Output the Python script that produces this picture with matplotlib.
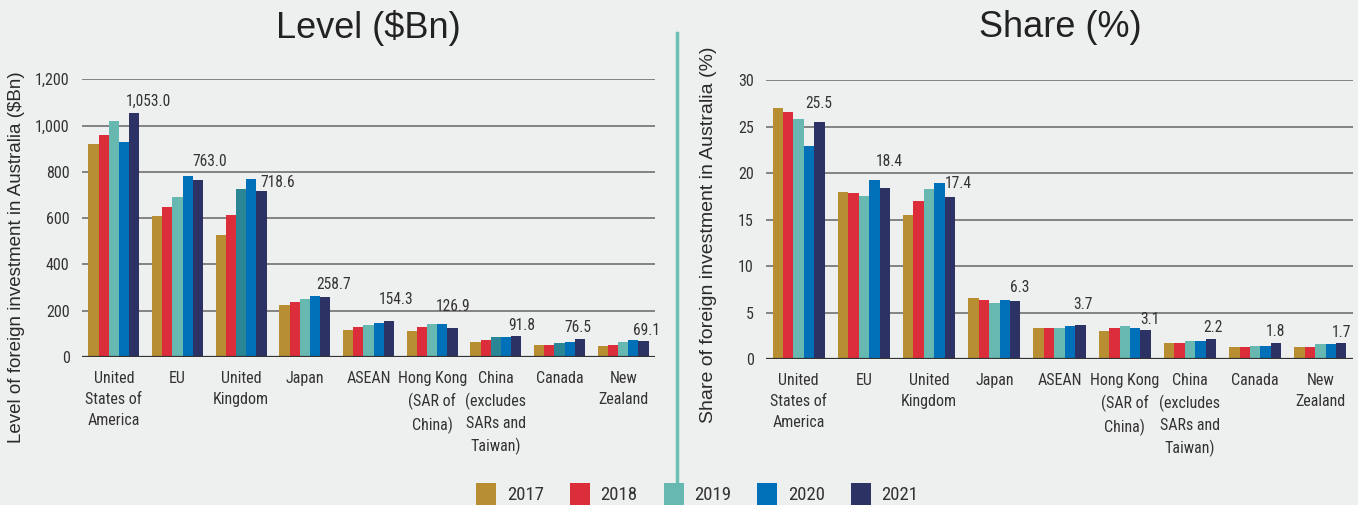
import matplotlib

matplotlib.use("Agg")
import matplotlib.pyplot as plt
import numpy as np
from matplotlib.patches import Patch
from matplotlib.ticker import FuncFormatter

# ---- data -------------------------------------------------------------
countries = [
    "United\nStates of\nAmerica",
    "EU",
    "United\nKingdom",
    "Japan",
    "ASEAN",
    "Hong Kong\n(SAR of\nChina)",
    "China\n(excludes\nSARs and\nTaiwan)",
    "Canada",
    "New\nZealand",
]
years = ["2017", "2018", "2019", "2020", "2021"]

level_2017 = [921, 610, 528, 226, 118, 114, 66, 50, 49]
level_2018 = [958, 649, 614, 239, 128, 128, 75, 53, 53]
level_2019 = [1020, 692, 727, 249, 140, 144, 88, 62, 66]
level_2020 = [929, 783, 770, 265, 148, 144, 88, 66, 75]
level_2021 = [1053.0, 763.0, 718.6, 258.7, 154.3, 126.9, 91.8, 76.5, 69.1]

share_2017 = [27.0, 18.0, 15.5, 6.6, 3.4, 3.0, 1.75, 1.3, 1.3]
share_2018 = [26.6, 17.9, 17.0, 6.4, 3.4, 3.4, 1.75, 1.3, 1.3]
share_2019 = [25.8, 17.5, 18.3, 6.05, 3.4, 3.6, 1.95, 1.45, 1.65]
share_2020 = [22.9, 19.3, 18.9, 6.4, 3.6, 3.4, 1.95, 1.45, 1.65]
share_2021 = [25.5, 18.4, 17.4, 6.3, 3.7, 3.1, 2.2, 1.8, 1.7]

# ---- style ------------------------------------------------------------
BG = "#eef0ef"
TXT = "#333333"
COLORS = ["#b88e33", "#dc2e3a", "#67b8b1", "#0070b8", "#2c3263"]
DARK_TEAL = "#2a8594"
NARROW = ["Liberation Sans Narrow", "Roboto Condensed", "DejaVu Sans"]
ARIAL = ["Liberation Sans", "DejaVu Sans"]

# label nudges in pixels (dx from bar's left edge, dy above bar top)
level_nudge = [(-3, 12), (0, 19), (4, 8), (-4, 13), (-5, 22), (-12, 21), (-3, 10), (-10, 12), (-5, 11)]
share_nudge = [(-9, 18), (-4, 26), (0, 14), (0, 13), (-2, 20), (0, 11), (-2, 11), (-5, 11), (-4, 11)]

fig = plt.figure(figsize=(13.58, 5.05), dpi=100, facecolor=BG)


def draw_panel(rect, series, ymax, step, fmt, nudge, dark=()):
    ax = fig.add_axes(rect, facecolor=BG)
    x = np.arange(len(countries))
    w = 0.16
    for k, vals in enumerate(series):
        cols = [DARK_TEAL if (k == 2 and i in dark) else COLORS[k] for i in range(len(vals))]
        ax.bar(x + (k - 2) * w, vals, width=w, color=cols, zorder=3)

    for yv in np.arange(step, ymax + step / 2, step):
        ax.axhline(yv, color="#7a7a7a", lw=1.3, zorder=1)
    ax.axhline(0, color="#333333", lw=1.6, zorder=4)

    ax.set_xlim(-0.5, len(countries) - 0.5)
    ax.set_ylim(0, ymax)
    ax.set_yticks(np.arange(0, ymax + step / 2, step))
    ax.yaxis.set_major_formatter(FuncFormatter(fmt))
    ax.set_xticks(x)
    ax.set_xticklabels(countries, linespacing=1.5)
    ax.tick_params(axis="both", length=0, colors=TXT, labelsize=11.5)
    ax.tick_params(axis="x", pad=10)
    ax.tick_params(axis="y", pad=9)
    for lab in ax.get_xticklabels() + ax.get_yticklabels():
        lab.set_family(NARROW)
        lab.set_color(TXT)
    for s in ax.spines.values():
        s.set_visible(False)

    last = series[-1]
    for i, v in enumerate(last):
        dx, dy = nudge[i]
        ax.annotate(
            f"{v:,.1f}",
            xy=(x[i] + 1.5 * w, v),
            xytext=(dx, dy),
            textcoords="offset pixels",
            ha="left",
            va="center",
            fontsize=11.2,
            family=NARROW,
            color=TXT,
            zorder=5,
        )
    return ax


ax1 = draw_panel(
    [0.0604, 0.293, 0.4219, 0.550],
    [level_2017, level_2018, level_2019, level_2020, level_2021],
    1200, 200, lambda v, p: f"{v:,.0f}", level_nudge, dark=(2, 6, 7),
)
ax2 = draw_panel(
    [0.5641, 0.2885, 0.4322, 0.5531],
    [share_2017, share_2018, share_2019, share_2020, share_2021],
    30, 5, lambda v, p: f"{v:.0f}", share_nudge,
)

# panel titles
fig.text(0.271, 0.945, "Level ($Bn)", ha="center", va="center", fontsize=26, family=ARIAL, color="#222222")
fig.text(0.7806, 0.945, "Share (%)", ha="center", va="center", fontsize=26, family=ARIAL, color="#222222")

# axis titles
fig.text(0.0125, 0.49, "Level of foreign investment in Australia ($Bn)", rotation=90,
         ha="center", va="center", fontsize=13.5, family=ARIAL, color="#2a2a2a")
fig.text(0.522, 0.535, "Share of foreign investment in Australia (%)", rotation=90,
         ha="center", va="center", fontsize=14, family=ARIAL, color="#2a2a2a")

# divider between the two panels
fig.add_artist(plt.Line2D([0.4985, 0.4985], [0.04, 0.935], color="#6bbfb6", lw=2.5, transform=fig.transFigure))

handles = [Patch(facecolor=c, edgecolor="none") for c in COLORS]
leg = fig.legend(
    handles, years, loc="center", bbox_to_anchor=(0.5135, 0.022), ncol=5, frameon=False,
    handlelength=1.07, handleheight=1.45, handletextpad=0.55, columnspacing=1.4,
    prop={"family": NARROW, "size": 13.5},
)
for t in leg.get_texts():
    t.set_color(TXT)

fig.savefig("out.png", dpi=100, facecolor=BG)
